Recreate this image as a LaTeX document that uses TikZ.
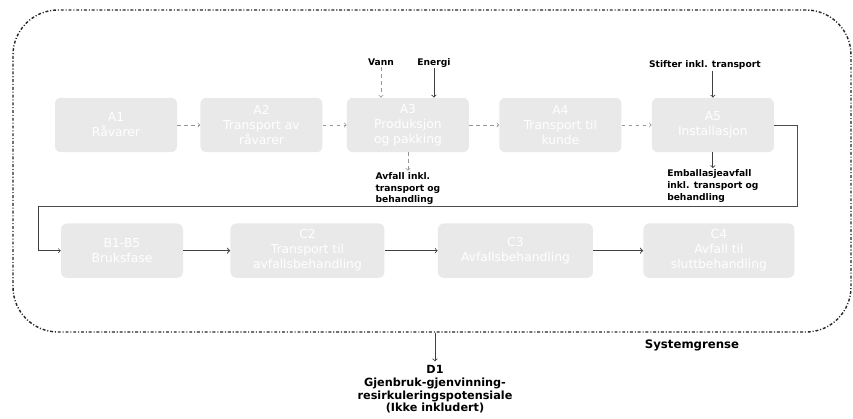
\documentclass[tikz,border=0pt]{standalone}
\usepackage{fontspec}
\setmainfont{DejaVu Sans}
\usepackage{tikz}
\usetikzlibrary{arrows, positioning, calc}
\definecolor{stagegray}{RGB}{233, 233, 233}
\definecolor{faintline}{RGB}{150, 150, 150}

\begin{document}
\begin{tikzpicture}[
    stage/.style={rectangle, rounded corners=5pt, minimum width=3.66cm, minimum height=1.63cm, inner sep=1pt, text centered, align=center, fill=stagegray, text=white, font=\fontsize{10.5}{12.8}\selectfont},
    flowlabel/.style={inner sep=1pt, align=left, font=\fontsize{7.8}{10.2}\selectfont\bfseries},
    boundary/.style={rectangle, rounded corners=1.35cm, minimum width=25.14cm, minimum height=9.66cm, inner sep=0pt, draw=black!85, line width=1.2pt, dash pattern=on 2.5pt off 1.6pt on 0.9pt off 1.6pt},
    arrow/.style={->, >=to, line width=0.7pt, black!75},
    faint/.style={->, >=to, line width=0.6pt, faintline, dashed}
]
    \useasboundingbox (0,0) rectangle (25.59,-12.57);

    \node[boundary] (sysbound) at (12.96,-5.13) {};
    \node[font=\fontsize{10}{12}\selectfont\bfseries] (sysname) at (20.76,-10.35) {Systemgrense};

    \node[stage] (a1) at (3.48,-3.75) {A1\\Råvarer};
    \node[stage, right=0.69cm of a1] (a2) {A2\\Transport av\\råvarer};
    \node[stage, right=0.72cm of a2] (a3) {A3\\Produksjon\\og pakking};
    \node[stage, right=0.9cm of a3] (a4) {A4\\Transport til\\kunde};
    \node[stage, right=0.9cm of a4] (a5) {A5\\Installasjon};

    \node[stage] (b1) at (3.66,-7.52) {B1-B5\\Bruksfase};
    \node[stage, minimum width=4.62cm, right=1.41cm of b1] (c2) {C2\\Transport til\\avfallsbehandling};
    \node[stage, minimum width=4.65cm, right=1.59cm of c2] (c3) {C3\\Avfallsbehandling};
    \node[stage, minimum width=4.53cm, right=1.5cm of c3] (c4) {C4\\Avfall til\\sluttbehandling};

    \node[flowlabel] (vann) at ($(a3.north)+(-0.81,1.05)$) {Vann};
    \node[flowlabel] (energi) at ($(a3.north)+(0.78,1.05)$) {Energi};
    \node[flowlabel] (stifter) at ($(a5.north)+(-0.24,0.98)$) {Stifter inkl. transport};
    \node[flowlabel, below=0.55cm of a3] (avfall) {Avfall inkl.\\transport og\\behandling};
    \node[flowlabel, below=0.47cm of a5] (emballasje) {Emballasjeavfall\\inkl. transport og\\behandling};

    \node[font=\fontsize{9.6}{10.9}\selectfont\bfseries, align=center, anchor=north] (d1) at (13.05,-10.84) {D1\\Gjenbruk-gjenvinning-\\resirkuleringspotensiale\\(Ikke inkludert)};

    \coordinate (rtop) at (23.91,-6.18);
    \coordinate (rleft) at (1.14,-6.18);

    \draw[faint] (a1) -- (a2);
    \draw[faint] (a2) -- (a3);
    \draw[faint] (a3) -- (a4);
    \draw[faint] (a4) -- (a5);
    \draw[faint] (vann) -- (vann |- a3.north);
    \draw[arrow] (energi) -- (energi |- a3.north);
    \draw[arrow] (stifter.south -| a5.north) -- (a5.north);
    \draw[faint] (a3.south) -- (avfall.north);
    \draw[arrow] (a5.south) -- (a5.south |- emballasje.north);

    \draw[line width=0.6pt, black!70] (a5.east) -| (rtop) -- (rleft);
    \draw[arrow, line width=0.6pt] (rleft) |- (b1.west);
    \draw[arrow, line width=0.9pt] (b1) -- (c2);
    \draw[arrow] (c2) -- (c3);
    \draw[arrow, line width=0.9pt] (c3) -- (c4);

    \draw[arrow] (sysbound.south -| d1.north) -- (d1.north);

\end{tikzpicture}
\end{document}
